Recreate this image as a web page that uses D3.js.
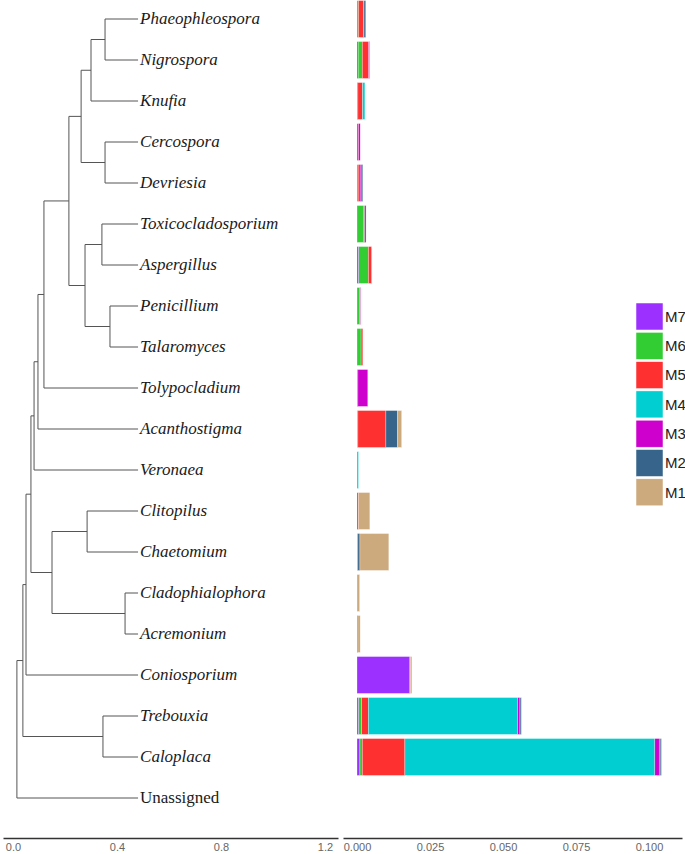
<!DOCTYPE html>
<html>
<head>
<meta charset="utf-8">
<script src="https://cdn.jsdelivr.net/npm/d3@7"></script>
<style>
  body { margin: 0; background: #fff; }
</style>
</head>
<body>
<div id="chart"></div>
<script>
// leaf order, top to bottom
const genera = ["Phaeophleospora", "Nigrospora", "Knufia", "Cercospora", "Devriesia",
    "Toxicocladosporium", "Aspergillus", "Penicillium", "Talaromyces", "Tolypocladium",
    "Acanthostigma", "Veronaea", "Clitopilus", "Chaetomium", "Cladophialophora",
    "Acremonium", "Coniosporium", "Trebouxia", "Caloplaca", "Unassigned"];

// tree: [node, parent, distance from origin]
const treeNodes = [
    ["root", "", 0.015],
    ["n1", "root", 0.038],
    ["n2", "n1", 0.050],
    ["n3", "n2", 0.069],
    ["n4", "n3", 0.081],
    ["n5", "n4", 0.096],
    ["n6", "n5", 0.119],
    ["n7", "n6", 0.215],
    ["n8", "n7", 0.262],
    ["n9", "n8", 0.300],
    ["n10", "n9", 0.354],
    ["n11", "n8", 0.354],
    ["n12", "n7", 0.277],
    ["n13", "n12", 0.342],
    ["n14", "n12", 0.373],
    ["n15", "n3", 0.150],
    ["n16", "n15", 0.285],
    ["n17", "n15", 0.431],
    ["n18", "n1", 0.346],
    ["Phaeophleospora", "n10", 0.481],
    ["Nigrospora", "n10", 0.481],
    ["Knufia", "n9", 0.481],
    ["Cercospora", "n11", 0.481],
    ["Devriesia", "n11", 0.481],
    ["Toxicocladosporium", "n13", 0.481],
    ["Aspergillus", "n13", 0.481],
    ["Penicillium", "n14", 0.481],
    ["Talaromyces", "n14", 0.481],
    ["Tolypocladium", "n6", 0.481],
    ["Acanthostigma", "n5", 0.481],
    ["Veronaea", "n4", 0.481],
    ["Clitopilus", "n16", 0.481],
    ["Chaetomium", "n16", 0.481],
    ["Cladophialophora", "n17", 0.481],
    ["Acremonium", "n17", 0.481],
    ["Coniosporium", "n2", 0.481],
    ["Trebouxia", "n18", 0.481],
    ["Caloplaca", "n18", 0.481],
    ["Unassigned", "root", 0.481]
];

const modules = ["M7", "M6", "M5", "M4", "M3", "M2", "M1"];
const moduleColors = ["#9B30FF", "#32CD32", "#FF3030", "#00CED1", "#CD00CD", "#36648B", "#CDAA7D"];

// abundance per genus, columns in the order of `modules`
const abundance = [
    [0,      0.0005, 0.0017, 0,      0.0002, 0.0006, 0],
    [0.0004, 0.0014, 0.0022, 0,      0.0002, 0.0002, 0],
    [0.0003, 0,      0.0016, 0.0008, 0,      0,      0],
    [0,      0,      0.0005, 0,      0.0006, 0,      0],
    [0,      0.0004, 0.0007, 0,      0.0006, 0.0003, 0],
    [0,      0.0022, 0.0004, 0,      0,      0.0005, 0],
    [0.0006, 0.0033, 0.0011, 0,      0,      0,      0],
    [0,      0.0008, 0.0003, 0,      0.0002, 0,      0],
    [0,      0.0014, 0.0006, 0,      0,      0,      0],
    [0,      0,      0.0003, 0,      0.0034, 0,      0],
    [0,      0.0003, 0.0096, 0,      0,      0.0040, 0.0014],
    [0,      0,      0,      0.0005, 0,      0,      0],
    [0,      0,      0.0005, 0,      0,      0,      0.0039],
    [0,      0.0003, 0,      0,      0,      0.0007, 0.0099],
    [0,      0,      0,      0,      0,      0,      0.0009],
    [0,      0,      0,      0,      0,      0.0003, 0.0008],
    [0.0179, 0,      0.0004, 0,      0,      0,      0.0005],
    [0.0006, 0.0010, 0.0023, 0.0511, 0.0008, 0.0004, 0.0002],
    [0.0010, 0.0008, 0.0146, 0.0856, 0.0015, 0.0006, 0.0003],
    [0,      0,      0,      0,      0,      0,      0]
];

const treeTicks = [0, 0.4, 0.8, 1.2];
const barTicks = [0, 0.025, 0.05, 0.075, 0.1];

const width = 685, height = 854;

const svg = d3.select("#chart").append("svg")
    .attr("width", width)
    .attr("height", height)
    .style("font-family", "'Liberation Sans', Arial, sans-serif");

// shared row scale
const yScale = d3.scaleBand()
    .domain(genera)
    .range([-1.5, 818.5])
    .paddingInner(0.1)
    .paddingOuter(0.05);
const rowY = name => yScale(name) + yScale.bandwidth() / 2;

// ---- tree panel ----
const xTree = d3.scaleLinear()
    .domain([-10 / 260, 325 / 260])
    .range([3, 338]);

let root = d3.stratify()
    .id(d => d[0])
    .parentId(d => d[1] || null)(treeNodes);

// leaves sit on their rows, inner nodes at the mean of children
root.eachAfter(n => {
    n.px = xTree(n.data[2]);
    if (!n.children) n.py = rowY(n.id);
    else n.py = d3.mean(n.children, c => c.py);
});

let treeG = svg.append("g");

root.descendants().forEach(n => {
    if (n.parent) {
        treeG.append("line")
            .attr("x1", n.parent.px).attr("x2", n.px)
            .attr("y1", n.py).attr("y2", n.py)
            .attr("stroke", "#555").attr("stroke-width", 1);
    }
    if (n.children) {
        let ys = n.children.map(c => c.py);
        treeG.append("line")
            .attr("x1", n.px).attr("x2", n.px)
            .attr("y1", d3.min(ys)).attr("y2", d3.max(ys))
            .attr("stroke", "#555").attr("stroke-width", 1);
    }
});

treeG.selectAll("text.leaf")
    .data(root.leaves())
    .enter().append("text")
    .attr("class", "leaf")
    .attr("x", d => d.px + 2)
    .attr("y", d => d.py)
    .attr("dy", "0.3em")
    .attr("font-family", "'Liberation Serif', 'Times New Roman', serif")
    .attr("font-size", 17)
    .attr("font-style", d => d.id === "Unassigned" ? "normal" : "italic")
    .attr("fill", "#1a1a1a")
    .text(d => d.id);

// ---- bar panel ----
const xBar = d3.scaleLinear()
    .domain([-14 / 2920, 325 / 2920])
    .range([343, 682]);

let rows = genera.map((g, i) => {
    let row = {genus: g};
    modules.forEach((m, j) => row[m] = abundance[i][j]);
    return row;
});

let stacked = d3.stack().keys(modules)(rows);
let color = d3.scaleOrdinal().domain(modules).range(moduleColors);

let barG = svg.append("g");
barG.selectAll("g.layer")
    .data(stacked)
    .enter().append("g")
    .attr("class", "layer")
    .attr("fill", d => color(d.key))
    .selectAll("rect")
    .data(d => d.filter(s => s[1] - s[0] > 0))
    .enter().append("rect")
    .attr("x", d => xBar(d[0]))
    .attr("y", d => yScale(d.data.genus))
    .attr("width", d => xBar(d[1]) - xBar(d[0]))
    .attr("height", yScale.bandwidth())
    .attr("stroke", "#fff")
    .attr("stroke-opacity", 0.6)
    .attr("stroke-width", 0.5);

// ---- axes ----
const axisY = 838;

function styleAxis(g) {
    g.select(".domain").attr("stroke", "#333").attr("stroke-width", 1.3);
    g.selectAll(".tick text")
        .attr("fill", "#666")
        .attr("font-size", 11)
        .attr("font-family", "'Liberation Sans', Arial, sans-serif");
}

svg.append("g")
    .attr("transform", `translate(0,${axisY})`)
    .call(d3.axisBottom(xTree).tickValues(treeTicks).tickSize(0).tickPadding(5)
        .tickFormat(d3.format(".1f")))
    .call(styleAxis);

svg.append("g")
    .attr("transform", `translate(0,${axisY})`)
    .call(d3.axisBottom(xBar).tickValues(barTicks).tickSize(0).tickPadding(5)
        .tickFormat(d3.format(".3f")))
    .call(styleAxis);

// ---- legend ----
let legend = svg.append("g").attr("transform", "translate(636,303)");
modules.forEach((m, i) => {
    legend.append("rect")
        .attr("x", 0).attr("y", i * 29.3)
        .attr("width", 27).attr("height", 27)
        .attr("fill", color(m))
        .attr("stroke", "#fff").attr("stroke-width", 0.5);
    legend.append("text")
        .attr("x", 29).attr("y", i * 29.3 + 13.5)
        .attr("dy", "0.35em")
        .attr("font-size", 15)
        .attr("fill", "#222")
        .text(m);
});
</script>
</body>
</html>
